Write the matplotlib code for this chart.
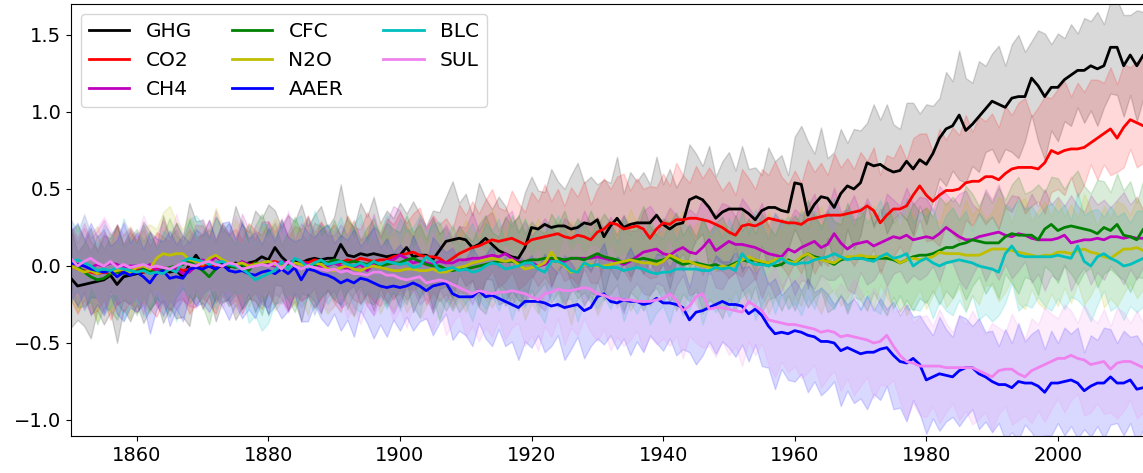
import numpy as np
import matplotlib
matplotlib.use('Agg')
from matplotlib import pyplot as plt

# annual mean response per forcing, 1850-2014
years = np.arange(1850, 2015)

ghg = [-0.08, -0.13, -0.12, -0.11, -0.10, -0.09, -0.06, -0.12, -0.07, -0.06,
       -0.05, -0.04, -0.03, -0.05, -0.02, -0.04, -0.03, -0.07, 0.01, 0.07,
       0.01, 0.00, -0.02, 0.01, -0.01, 0.02, 0.00, 0.02, 0.03, 0.06,
       0.04, 0.12, 0.06, 0.02, 0.03, 0.02, 0.04, 0.05, 0.04, 0.05,
       0.05, 0.14, 0.07, 0.06, 0.08, 0.07, 0.08, 0.07, 0.06, 0.07,
       0.07, 0.12, 0.06, 0.07, 0.07, 0.04, 0.10, 0.16, 0.17, 0.18,
       0.17, 0.12, 0.14, 0.18, 0.14, 0.10, 0.08, 0.06, 0.05, 0.12,
       0.25, 0.24, 0.27, 0.25, 0.26, 0.26, 0.24, 0.25, 0.28, 0.27,
       0.30, 0.19, 0.26, 0.31, 0.25, 0.27, 0.28, 0.28, 0.28, 0.33,
       0.27, 0.24, 0.27, 0.28, 0.43, 0.45, 0.43, 0.38, 0.31, 0.35,
       0.37, 0.37, 0.37, 0.34, 0.30, 0.36, 0.38, 0.38, 0.36, 0.35,
       0.54, 0.53, 0.33, 0.40, 0.45, 0.44, 0.38, 0.47, 0.52, 0.50,
       0.54, 0.67, 0.65, 0.66, 0.63, 0.61, 0.62, 0.68, 0.63, 0.69,
       0.66, 0.73, 0.83, 0.89, 0.91, 0.98, 0.88, 0.92, 0.97, 1.02,
       1.07, 1.05, 1.03, 1.09, 1.10, 1.10, 1.22, 1.17, 1.10, 1.16,
       1.16, 1.21, 1.24, 1.27, 1.27, 1.30, 1.28, 1.30, 1.42, 1.42,
       1.30, 1.37, 1.30, 1.37, 1.33]

co2 = [0.00, -0.02, -0.03, -0.04, -0.05, -0.04, -0.05, -0.03, -0.04, -0.03,
       -0.02, -0.04, -0.03, -0.02, -0.03, -0.02, -0.01, -0.03, -0.02, -0.01,
       0.00, 0.01, -0.01, 0.00, 0.01, 0.00, 0.01, 0.00, 0.02, 0.01,
       0.02, 0.03, 0.01, 0.02, 0.01, 0.03, 0.02, 0.04, 0.03, 0.02,
       0.03, 0.02, 0.04, 0.03, 0.05, 0.04, 0.03, 0.04, 0.04, 0.06,
       0.07, 0.08, 0.09, 0.07, 0.06, 0.06, 0.05, 0.02, 0.05, 0.08,
       0.10, 0.12, 0.13, 0.15, 0.17, 0.16, 0.17, 0.18, 0.16, 0.14,
       0.17, 0.18, 0.19, 0.20, 0.21, 0.19, 0.18, 0.20, 0.19, 0.17,
       0.22, 0.24, 0.28, 0.27, 0.24, 0.25, 0.26, 0.24, 0.18, 0.24,
       0.28, 0.27, 0.30, 0.30, 0.31, 0.31, 0.30, 0.29, 0.27, 0.25,
       0.22, 0.20, 0.26, 0.27, 0.26, 0.28, 0.31, 0.30, 0.29, 0.28,
       0.28, 0.27, 0.30, 0.31, 0.32, 0.33, 0.33, 0.33, 0.34, 0.35,
       0.36, 0.39, 0.36, 0.28, 0.33, 0.37, 0.37, 0.39, 0.46, 0.52,
       0.46, 0.42, 0.46, 0.49, 0.49, 0.50, 0.54, 0.55, 0.55, 0.58,
       0.58, 0.56, 0.60, 0.63, 0.64, 0.64, 0.64, 0.63, 0.67, 0.75,
       0.73, 0.75, 0.76, 0.76, 0.77, 0.80, 0.83, 0.86, 0.89, 0.83,
       0.90, 0.95, 0.93, 0.91, 0.92]

ch4 = [0.02, 0.01, 0.00, -0.01, 0.01, 0.00, 0.02, 0.01, -0.01, 0.00,
       0.00, -0.02, 0.01, -0.03, -0.01, -0.02, -0.02, -0.05, -0.04, 0.00,
       0.04, 0.02, 0.06, 0.03, 0.02, 0.00, 0.03, 0.01, 0.00, 0.02,
       0.01, 0.00, 0.03, 0.02, 0.00, 0.03, 0.01, 0.02, -0.01, 0.00,
       0.02, 0.00, -0.02, -0.01, 0.01, -0.03, 0.01, 0.00, 0.03, 0.04,
       0.07, 0.05, 0.02, 0.03, 0.02, 0.01, 0.03, 0.02, 0.02, 0.04,
       0.04, 0.05, 0.05, 0.06, 0.07, 0.06, 0.08, 0.05, 0.03, 0.02,
       0.02, 0.00, 0.01, 0.04, 0.03, 0.03, 0.05, 0.05, 0.05, 0.05,
       0.06, 0.05, 0.04, 0.03, 0.01, 0.03, 0.06, 0.09, 0.10, 0.11,
       0.08, 0.07, 0.10, 0.12, 0.09, 0.08, 0.12, 0.17, 0.10, 0.13,
       0.16, 0.14, 0.14, 0.13, 0.12, 0.10, 0.08, 0.07, 0.06, 0.11,
       0.09, 0.12, 0.14, 0.16, 0.12, 0.14, 0.21, 0.15, 0.11, 0.14,
       0.15, 0.16, 0.13, 0.15, 0.17, 0.19, 0.18, 0.20, 0.17, 0.18,
       0.19, 0.18, 0.21, 0.25, 0.22, 0.19, 0.17, 0.17, 0.19, 0.20,
       0.21, 0.22, 0.20, 0.19, 0.21, 0.20, 0.18, 0.17, 0.17, 0.17,
       0.18, 0.20, 0.15, 0.16, 0.17, 0.17, 0.18, 0.17, 0.19, 0.19,
       0.18, 0.19, 0.18, 0.18, 0.17]

cfc = [0.05, 0.00, -0.04, -0.07, -0.09, -0.08, -0.05, -0.04, -0.05, -0.03,
       -0.04, -0.02, -0.03, -0.05, -0.02, -0.01, 0.00, 0.01, 0.03, 0.00,
       -0.03, -0.07, -0.02, 0.02, 0.00, -0.01, 0.01, -0.03, 0.02, 0.01,
       0.03, 0.01, -0.01, 0.00, 0.01, 0.02, -0.02, 0.00, 0.03, 0.02,
       0.04, 0.03, 0.02, 0.03, 0.02, 0.01, 0.03, 0.00, 0.01, 0.02,
       0.02, 0.04, 0.05, 0.03, 0.01, 0.00, 0.00, -0.02, -0.03, -0.02,
       -0.02, -0.01, 0.00, 0.01, 0.02, 0.03, 0.03, 0.03, 0.02, 0.03,
       0.04, 0.04, 0.05, 0.05, 0.05, 0.04, 0.05, 0.05, 0.04, 0.06,
       0.08, 0.06, 0.05, 0.04, 0.02, 0.04, 0.04, 0.05, 0.04, 0.03,
       0.04, 0.06, 0.03, 0.01, 0.02, 0.02, 0.01, 0.00, 0.01, -0.01,
       0.00, 0.02, 0.04, 0.03, 0.04, 0.02, 0.02, 0.00, 0.01, 0.04,
       0.02, 0.05, 0.08, 0.06, 0.05, 0.03, 0.01, 0.04, 0.05, 0.05,
       0.05, 0.05, 0.05, 0.05, 0.05, 0.04, 0.02, 0.04, 0.06, 0.07,
       0.07, 0.08, 0.10, 0.12, 0.12, 0.14, 0.15, 0.17, 0.16, 0.15,
       0.15, 0.15, 0.19, 0.21, 0.20, 0.20, 0.20, 0.17, 0.24, 0.27,
       0.23, 0.25, 0.26, 0.25, 0.24, 0.23, 0.21, 0.25, 0.23, 0.27,
       0.20, 0.19, 0.17, 0.24, 0.26]

n2o = [0.00, -0.02, -0.04, -0.03, -0.05, -0.03, -0.04, -0.03, -0.02, -0.04,
       -0.01, 0.00, -0.02, 0.05, 0.08, 0.07, 0.08, 0.08, 0.04, 0.03,
       0.01, 0.05, 0.07, 0.04, 0.02, 0.01, 0.02, 0.00, 0.01, 0.02,
       0.03, 0.01, 0.00, -0.01, 0.02, 0.01, 0.00, 0.02, 0.01, -0.02,
       -0.03, -0.01, 0.00, -0.02, -0.03, -0.01, 0.00, -0.01, -0.02, -0.03,
       -0.03, -0.02, -0.02, -0.03, -0.03, -0.02, -0.04, -0.04, -0.02, -0.01,
       0.00, 0.02, 0.03, 0.04, 0.05, 0.04, 0.03, 0.04, 0.01, -0.02,
       -0.01, 0.00, 0.02, 0.09, 0.03, 0.00, -0.04, -0.03, 0.01, 0.01,
       0.00, 0.00, 0.01, 0.02, 0.03, 0.04, 0.03, 0.02, 0.02, 0.01,
       0.03, 0.07, 0.05, 0.03, 0.03, 0.01, 0.00, -0.01, -0.02, 0.00,
       -0.01, 0.01, 0.04, 0.06, 0.04, 0.03, 0.02, 0.04, 0.05, 0.03,
       0.02, 0.06, 0.08, 0.05, 0.04, 0.03, 0.02, 0.05, 0.06, 0.06,
       0.07, 0.06, 0.06, 0.06, 0.07, 0.05, 0.02, 0.04, 0.05, 0.04,
       0.05, 0.06, 0.09, 0.08, 0.08, 0.08, 0.07, 0.07, 0.07, 0.09,
       0.11, 0.11, 0.11, 0.10, 0.09, 0.08, 0.07, 0.06, 0.07, 0.07,
       0.09, 0.09, 0.08, 0.10, 0.11, 0.09, 0.08, 0.06, 0.05, 0.08,
       0.11, 0.11, 0.12, 0.10, 0.11]

aaer = [0.02, 0.01, 0.00, -0.02, -0.03, -0.04, -0.03, -0.07, -0.04, -0.06,
        -0.04, -0.07, -0.11, -0.05, -0.03, -0.08, -0.07, -0.08, -0.02, -0.01,
        -0.02, 0.00, -0.02, 0.01, -0.03, -0.04, -0.03, -0.05, -0.06, -0.04,
        -0.03, -0.05, -0.02, -0.05, -0.01, -0.09, -0.02, -0.03, -0.05, -0.06,
        -0.08, -0.11, -0.09, -0.11, -0.08, -0.09, -0.11, -0.13, -0.14, -0.13,
        -0.14, -0.13, -0.11, -0.13, -0.16, -0.13, -0.12, -0.11, -0.18, -0.20,
        -0.20, -0.20, -0.16, -0.20, -0.19, -0.21, -0.23, -0.25, -0.27, -0.23,
        -0.23, -0.23, -0.24, -0.26, -0.25, -0.27, -0.26, -0.25, -0.29, -0.27,
        -0.20, -0.18, -0.23, -0.24, -0.22, -0.23, -0.23, -0.25, -0.24, -0.21,
        -0.24, -0.24, -0.25, -0.27, -0.35, -0.30, -0.29, -0.27, -0.25, -0.23,
        -0.25, -0.25, -0.26, -0.31, -0.28, -0.32, -0.39, -0.44, -0.43, -0.44,
        -0.42, -0.43, -0.45, -0.46, -0.49, -0.49, -0.50, -0.55, -0.53, -0.55,
        -0.57, -0.56, -0.56, -0.54, -0.53, -0.58, -0.62, -0.63, -0.60, -0.64,
        -0.74, -0.72, -0.70, -0.71, -0.72, -0.68, -0.66, -0.66, -0.70, -0.72,
        -0.75, -0.77, -0.77, -0.79, -0.75, -0.76, -0.76, -0.78, -0.82, -0.76,
        -0.76, -0.75, -0.74, -0.76, -0.81, -0.78, -0.76, -0.76, -0.72, -0.76,
        -0.76, -0.74, -0.80, -0.79, -0.80]

blc = [0.03, 0.04, 0.02, 0.00, -0.03, -0.02, -0.03, -0.01, -0.02, -0.03,
       -0.04, -0.03, -0.05, -0.04, -0.05, -0.02, -0.04, 0.03, 0.05, 0.04,
       0.03, 0.01, 0.02, 0.03, 0.01, 0.00, -0.02, -0.05, -0.09, -0.07,
       -0.05, -0.03, 0.03, -0.02, 0.05, 0.03, -0.01, 0.02, 0.04, 0.01,
       0.02, 0.03, 0.01, 0.00, 0.02, 0.00, 0.03, 0.01, 0.03, 0.02,
       0.01, 0.02, -0.01, 0.00, 0.06, 0.03, -0.03, -0.02, -0.01, -0.03,
       -0.02, -0.04, -0.03, 0.00, 0.02, 0.01, -0.02, -0.01, 0.00, 0.02,
       0.02, -0.02, -0.04, 0.03, 0.03, 0.01, -0.03, -0.04, 0.02, 0.00,
       0.01, -0.01, -0.01, -0.01, -0.03, -0.02, -0.01, -0.02, -0.04, -0.05,
       -0.04, -0.04, -0.02, -0.02, -0.02, -0.02, -0.03, -0.03, -0.01, -0.02,
       -0.01, -0.03, 0.08, 0.03, 0.01, 0.01, 0.00, 0.02, 0.05, 0.02,
       0.01, 0.02, 0.02, 0.04, 0.05, 0.06, 0.08, 0.06, 0.04, 0.05,
       0.05, 0.04, 0.03, 0.06, 0.08, 0.05, 0.06, 0.08, 0.00, 0.03,
       0.05, 0.02, 0.00, 0.02, 0.03, 0.04, 0.03, 0.02, 0.00, -0.01,
       -0.02, -0.04, 0.08, 0.13, 0.07, 0.06, 0.06, 0.06, 0.06, 0.06,
       0.07, 0.06, 0.05, 0.13, 0.03, 0.00, 0.06, 0.08, 0.05, 0.03,
       0.00, 0.01, 0.03, 0.05, 0.06]

sul = [0.05, 0.00, 0.03, 0.05, 0.02, 0.00, 0.03, -0.01, 0.01, -0.01,
       0.00, 0.01, -0.01, 0.00, -0.01, -0.02, 0.00, 0.02, 0.01, 0.00,
       0.02, 0.03, 0.01, 0.00, 0.02, 0.01, -0.02, -0.01, 0.00, 0.01,
       0.00, 0.02, -0.02, 0.03, 0.00, -0.02, 0.00, -0.01, -0.02, -0.03,
       -0.02, -0.04, -0.03, -0.05, -0.05, -0.06, -0.04, -0.04, -0.06, -0.06,
       -0.08, -0.09, -0.08, -0.07, -0.11, -0.10, -0.09, -0.10, -0.12, -0.14,
       -0.16, -0.18, -0.16, -0.17, -0.18, -0.17, -0.17, -0.16, -0.17, -0.18,
       -0.20, -0.22, -0.18, -0.17, -0.15, -0.16, -0.16, -0.15, -0.14, -0.15,
       -0.18, -0.19, -0.21, -0.21, -0.22, -0.22, -0.23, -0.23, -0.23, -0.22,
       -0.21, -0.18, -0.22, -0.29, -0.26, -0.20, -0.18, -0.28, -0.27, -0.27,
       -0.28, -0.29, -0.30, -0.23, -0.26, -0.29, -0.35, -0.36, -0.37, -0.38,
       -0.38, -0.39, -0.40, -0.41, -0.43, -0.42, -0.43, -0.46, -0.45, -0.46,
       -0.47, -0.48, -0.50, -0.49, -0.45, -0.52, -0.58, -0.62, -0.63, -0.65,
       -0.65, -0.65, -0.65, -0.66, -0.66, -0.66, -0.66, -0.66, -0.68, -0.70,
       -0.72, -0.68, -0.67, -0.67, -0.70, -0.72, -0.68, -0.66, -0.64, -0.62,
       -0.60, -0.60, -0.58, -0.60, -0.61, -0.64, -0.63, -0.62, -0.67, -0.63,
       -0.62, -0.62, -0.64, -0.66, -0.65]

# half-width of the ensemble spread (CO2 has separate upper / lower)
ghg_sd = [.32, .22, .27, .36, .19, .29, .24, .38, .21, .30,
          .20, .33, .25, .18, .35, .23, .31, .26, .40, .22,
          .29, .19, .34, .24, .21, .37, .27, .20, .33, .25,
          .36, .24, .19, .31, .26, .38, .22, .28, .35, .20,
          .27, .39, .23, .19, .33, .25, .37, .21, .30, .24,
          .34, .22, .36, .27, .19, .32, .25, .29, .38, .23,
          .30, .21, .40, .26, .23, .35, .31, .22, .27, .36,
          .33, .25, .21, .38, .29, .24, .35, .42, .26, .31,
          .23, .37, .28, .40, .22, .34, .27, .33, .25, .38,
          .26, .39, .24, .31, .36, .28, .22, .40, .27, .33,
          .37, .25, .41, .29, .34, .23, .39, .30, .36, .24,
          .30, .38, .48, .33, .45, .26, .36, .42, .28, .39,
          .34, .26, .40, .29, .42, .31, .27, .38, .43, .30,
          .39, .31, .26, .37, .29, .42, .34, .27, .36, .28,
          .31, .38, .27, .35, .40, .29, .24, .36, .41, .28,
          .35, .27, .33, .24, .34, .29, .37, .27, .30, .31,
          .33, .26, .36, .28, .31]

co2_up = [.24, .17, .28, .20, .16, .26, .19, .30, .18, .25,
          .19, .28, .16, .24, .22, .18, .29, .20, .26, .17,
          .22, .29, .18, .27, .20, .24, .16, .28, .21, .19,
          .27, .19, .30, .17, .25, .21, .31, .18, .26, .20,
          .24, .18, .29, .22, .19, .31, .23, .17, .27, .21,
          .28, .20, .25, .31, .18, .27, .22, .29, .19, .32,
          .23, .30, .21, .28, .33, .22, .19, .31, .25, .21,
          .31, .24, .34, .22, .29, .20, .33, .25, .36, .23,
          .28, .33, .22, .31, .36, .24, .31, .26, .34, .27,
          .32, .25, .37, .29, .23, .34, .27, .35, .30, .24,
          .33, .26, .37, .30, .24, .35, .28, .38, .29, .25,
          .34, .27, .39, .30, .35, .26, .40, .31, .36, .28,
          .38, .29, .41, .31, .39, .33, .42, .30, .37, .34,
          .40, .32, .43, .33, .41, .35, .44, .32, .42, .36,
          .41, .34, .44, .35, .42, .45, .33, .40, .43, .34,
          .42, .45, .34, .43, .36, .41, .38, .33, .40, .35,
          .41, .34, .40, .43, .36]

co2_lo = [.22, .29, .19, .27, .24, .18, .30, .21, .26, .20,
          .28, .19, .25, .31, .20, .27, .22, .18, .29, .24,
          .20, .26, .30, .19, .27, .22, .32, .21, .25, .29,
          .19, .28, .23, .30, .20, .26, .21, .31, .24, .18,
          .27, .32, .20, .25, .29, .21, .26, .30, .19, .28,
          .22, .30, .25, .19, .31, .23, .28, .20, .32, .24,
          .29, .21, .33, .25, .20, .30, .27, .22, .31, .26,
          .23, .31, .26, .34, .22, .29, .25, .32, .21, .28,
          .33, .24, .30, .22, .27, .35, .23, .29, .26, .31,
          .25, .34, .27, .22, .32, .26, .36, .24, .30, .28,
          .30, .24, .33, .27, .35, .22, .31, .25, .29, .34,
          .26, .32, .23, .36, .28, .33, .24, .30, .27, .35,
          .29, .36, .25, .33, .27, .31, .24, .34, .28, .22,
          .30, .25, .33, .22, .28, .34, .24, .29, .21, .31,
          .26, .32, .22, .28, .19, .30, .25, .21, .33, .27,
          .23, .29, .18, .31, .24, .14, .27, .20, .30, .22,
          .26, .19, .29, .24, .21]

ch4_sd = [.24, .17, .28, .19, .22, .30, .18, .26, .21, .25,
          .19, .29, .16, .23, .31, .20, .26, .17, .22, .27,
          .22, .16, .30, .19, .26, .18, .31, .23, .17, .27,
          .28, .18, .24, .32, .17, .25, .21, .16, .29, .20,
          .18, .27, .22, .31, .16, .23, .33, .19, .26, .35,
          .29, .20, .17, .28, .23, .31, .18, .25, .16, .22,
          .21, .30, .18, .26, .28, .17, .23, .31, .19, .27,
          .18, .25, .30, .21, .17, .28, .22, .18, .31, .22,
          .26, .19, .28, .23, .32, .20, .17, .27, .29, .22,
          .21, .31, .23, .18, .28, .25, .32, .19, .24, .28,
          .23, .18, .30, .25, .20, .31, .18, .27, .22, .17,
          .28, .21, .25, .31, .18, .23, .30, .20, .26, .32,
          .19, .28, .22, .17, .30, .24, .21, .31, .23, .27,
          .25, .18, .31, .22, .20, .28, .32, .23, .17, .30,
          .22, .31, .19, .27, .24, .17, .29, .22, .33, .23,
          .27, .19, .31, .23, .18, .29, .22, .26, .19, .24,
          .30, .21, .27, .18, .23]

cfc_sd = [.18, .27, .22, .16, .29, .19, .24, .31, .17, .22,
          .28, .18, .26, .16, .23, .32, .20, .15, .27, .19,
          .23, .31, .17, .26, .21, .15, .29, .18, .24, .33,
          .19, .27, .15, .22, .31, .20, .17, .28, .23, .18,
          .26, .16, .30, .21, .15, .24, .28, .18, .27, .22,
          .20, .29, .17, .24, .16, .31, .21, .27, .18, .28,
          .22, .17, .27, .32, .20, .16, .29, .23, .31, .18,
          .25, .20, .16, .29, .22, .32, .18, .26, .21, .30,
          .18, .28, .23, .16, .31, .21, .25, .34, .22, .17,
          .27, .22, .32, .19, .25, .17, .30, .22, .27, .33,
          .21, .31, .19, .28, .17, .32, .24, .20, .30, .23,
          .31, .22, .35, .26, .21, .33, .28, .23, .36, .25,
          .27, .34, .22, .30, .37, .24, .32, .26, .35, .28,
          .31, .24, .35, .28, .33, .25, .37, .30, .23, .33,
          .26, .36, .24, .32, .38, .27, .29, .36, .24, .31,
          .34, .25, .31, .37, .28, .24, .35, .30, .25, .33,
          .29, .36, .24, .32, .27]

n2o_sd = [.22, .28, .17, .24, .31, .18, .26, .15, .23, .30,
          .17, .25, .29, .19, .27, .32, .21, .16, .28, .22,
          .26, .18, .31, .22, .15, .29, .20, .27, .17, .24,
          .19, .30, .23, .16, .28, .21, .32, .18, .25, .29,
          .23, .16, .27, .31, .18, .24, .15, .30, .20, .26,
          .16, .28, .22, .31, .23, .17, .32, .17, .27, .21,
          .30, .20, .16, .26, .32, .22, .18, .29, .21, .33,
          .23, .31, .19, .15, .28, .22, .34, .17, .26, .20,
          .32, .22, .17, .29, .19, .33, .25, .15, .28, .21,
          .18, .30, .23, .33, .17, .26, .31, .20, .24, .28,
          .26, .17, .32, .22, .29, .19, .33, .25, .17, .31,
          .22, .32, .18, .28, .35, .22, .17, .31, .26, .20,
          .29, .22, .34, .18, .27, .32, .21, .36, .28, .19,
          .33, .25, .19, .35, .29, .22, .36, .26, .32, .21,
          .24, .34, .28, .18, .33, .36, .22, .30, .35, .25,
          .35, .23, .32, .21, .36, .28, .18, .33, .26, .34,
          .29, .22, .33, .25, .30]

aaer_sd = [.21, .27, .17, .30, .22, .28, .16, .24, .32, .21,
           .26, .18, .33, .23, .19, .31, .21, .28, .17, .25,
           .22, .30, .19, .27, .32, .21, .31, .23, .28, .18,
           .28, .21, .32, .24, .17, .27, .34, .22, .29, .33,
           .23, .31, .26, .35, .21, .28, .36, .25, .32, .22,
           .28, .20, .31, .23, .18, .32, .25, .20, .30, .22,
           .25, .32, .21, .27, .33, .20, .29, .24, .34, .26,
           .30, .22, .32, .26, .20, .34, .28, .21, .31, .25,
           .27, .33, .22, .30, .25, .35, .26, .31, .21, .29,
           .31, .23, .33, .27, .21, .34, .29, .22, .32, .26,
           .28, .34, .25, .31, .23, .33, .27, .36, .24, .30,
           .33, .27, .37, .29, .35, .31, .25, .36, .28, .34,
           .29, .37, .27, .33, .25, .35, .30, .38, .27, .32,
           .35, .27, .37, .30, .26, .36, .32, .27, .36, .29,
           .33, .25, .36, .29, .38, .27, .32, .37, .28, .34,
           .26, .35, .30, .36, .25, .33, .28, .36, .31, .26,
           .34, .28, .35, .27, .32]

blc_sd = [.27, .19, .31, .21, .16, .29, .24, .17, .33, .21,
          .18, .30, .23, .15, .28, .21, .32, .17, .25, .29,
          .24, .16, .30, .21, .27, .18, .15, .32, .23, .35,
          .32, .21, .27, .16, .25, .30, .19, .34, .21, .26,
          .20, .29, .17, .27, .32, .16, .24, .21, .31, .18,
          .30, .21, .26, .33, .17, .24, .32, .20, .28, .16,
          .23, .32, .18, .28, .21, .30, .16, .34, .22, .29,
          .17, .27, .33, .21, .30, .23, .18, .32, .26, .20,
          .29, .19, .27, .16, .33, .22, .30, .20, .34, .25,
          .22, .33, .19, .30, .26, .17, .35, .22, .29, .20,
          .32, .22, .28, .18, .36, .26, .17, .33, .23, .30,
          .25, .34, .22, .32, .19, .29, .36, .24, .33, .21,
          .34, .24, .31, .37, .22, .33, .25, .36, .28, .32,
          .27, .36, .23, .31, .35, .26, .33, .21, .35, .30,
          .34, .28, .32, .24, .36, .31, .33, .26, .32, .35,
          .28, .34, .25, .35, .30, .36, .31, .24, .34, .29,
          .35, .27, .33, .31, .34]

sul_sd = [.26, .18, .31, .16, .23, .32, .21, .17, .28, .24,
          .19, .32, .23, .16, .27, .21, .34, .18, .25, .15,
          .29, .20, .16, .28, .19, .32, .24, .15, .27, .21,
          .17, .27, .22, .33, .19, .25, .15, .30, .20, .26,
          .24, .16, .31, .21, .33, .18, .28, .22, .16, .30,
          .20, .31, .18, .26, .23, .32, .19, .35, .25, .17,
          .30, .21, .33, .23, .28, .18, .31, .24, .20, .34,
          .25, .33, .21, .29, .19, .35, .24, .30, .20, .28,
          .31, .22, .34, .25, .30, .26, .19, .32, .23, .29,
          .26, .34, .23, .31, .19, .30, .35, .24, .32, .22,
          .30, .23, .35, .26, .32, .21, .29, .36, .25, .31,
          .27, .34, .29, .23, .36, .31, .25, .35, .28, .38,
          .31, .24, .36, .28, .33, .22, .30, .37, .26, .32,
          .33, .26, .37, .29, .23, .34, .28, .37, .31, .25,
          .35, .28, .24, .36, .30, .25, .34, .28, .37, .31,
          .26, .35, .29, .23, .36, .31, .26, .34, .28, .36,
          .32, .25, .35, .29, .31]

labels = ['GHG', 'CO2', 'CH4', 'CFC', 'N2O', 'AAER', 'BLC', 'SUL']
colors = ['k', 'r', 'm', 'g', 'y', 'b', 'c', 'violet']
means = [ghg, co2, ch4, cfc, n2o, aaer, blc, sul]
upper = [ghg_sd, co2_up, ch4_sd, cfc_sd, n2o_sd, aaer_sd, blc_sd, sul_sd]
lower = [ghg_sd, co2_lo, ch4_sd, cfc_sd, n2o_sd, aaer_sd, blc_sd, sul_sd]

fig = plt.figure(figsize=(11.43, 4.73), dpi=100)
ax = fig.add_axes([0.0621, 0.0782, 0.944, 0.9133])

# shaded spread first, mean lines on top
for m, up, lo, c in zip(means, upper, lower, colors):
    m = np.array(m)
    ax.fill_between(years, m - np.array(lo), m + np.array(up), color=c, alpha=0.15)

for m, c, lab in zip(means, colors, labels):
    ax.plot(years, m, color=c, lw=2, label=lab)

ax.set_xlim(1850, 2014)
ax.set_ylim(-1.104, 1.701)
ax.set_xticks(np.arange(1860, 2001, 20))
ax.set_yticks([-1.0, -0.5, 0.0, 0.5, 1.0, 1.5])
ax.tick_params(labelsize=14)
ax.legend(loc='upper left', ncol=3, fontsize=14.5)

plt.savefig('out.png', dpi=100)
